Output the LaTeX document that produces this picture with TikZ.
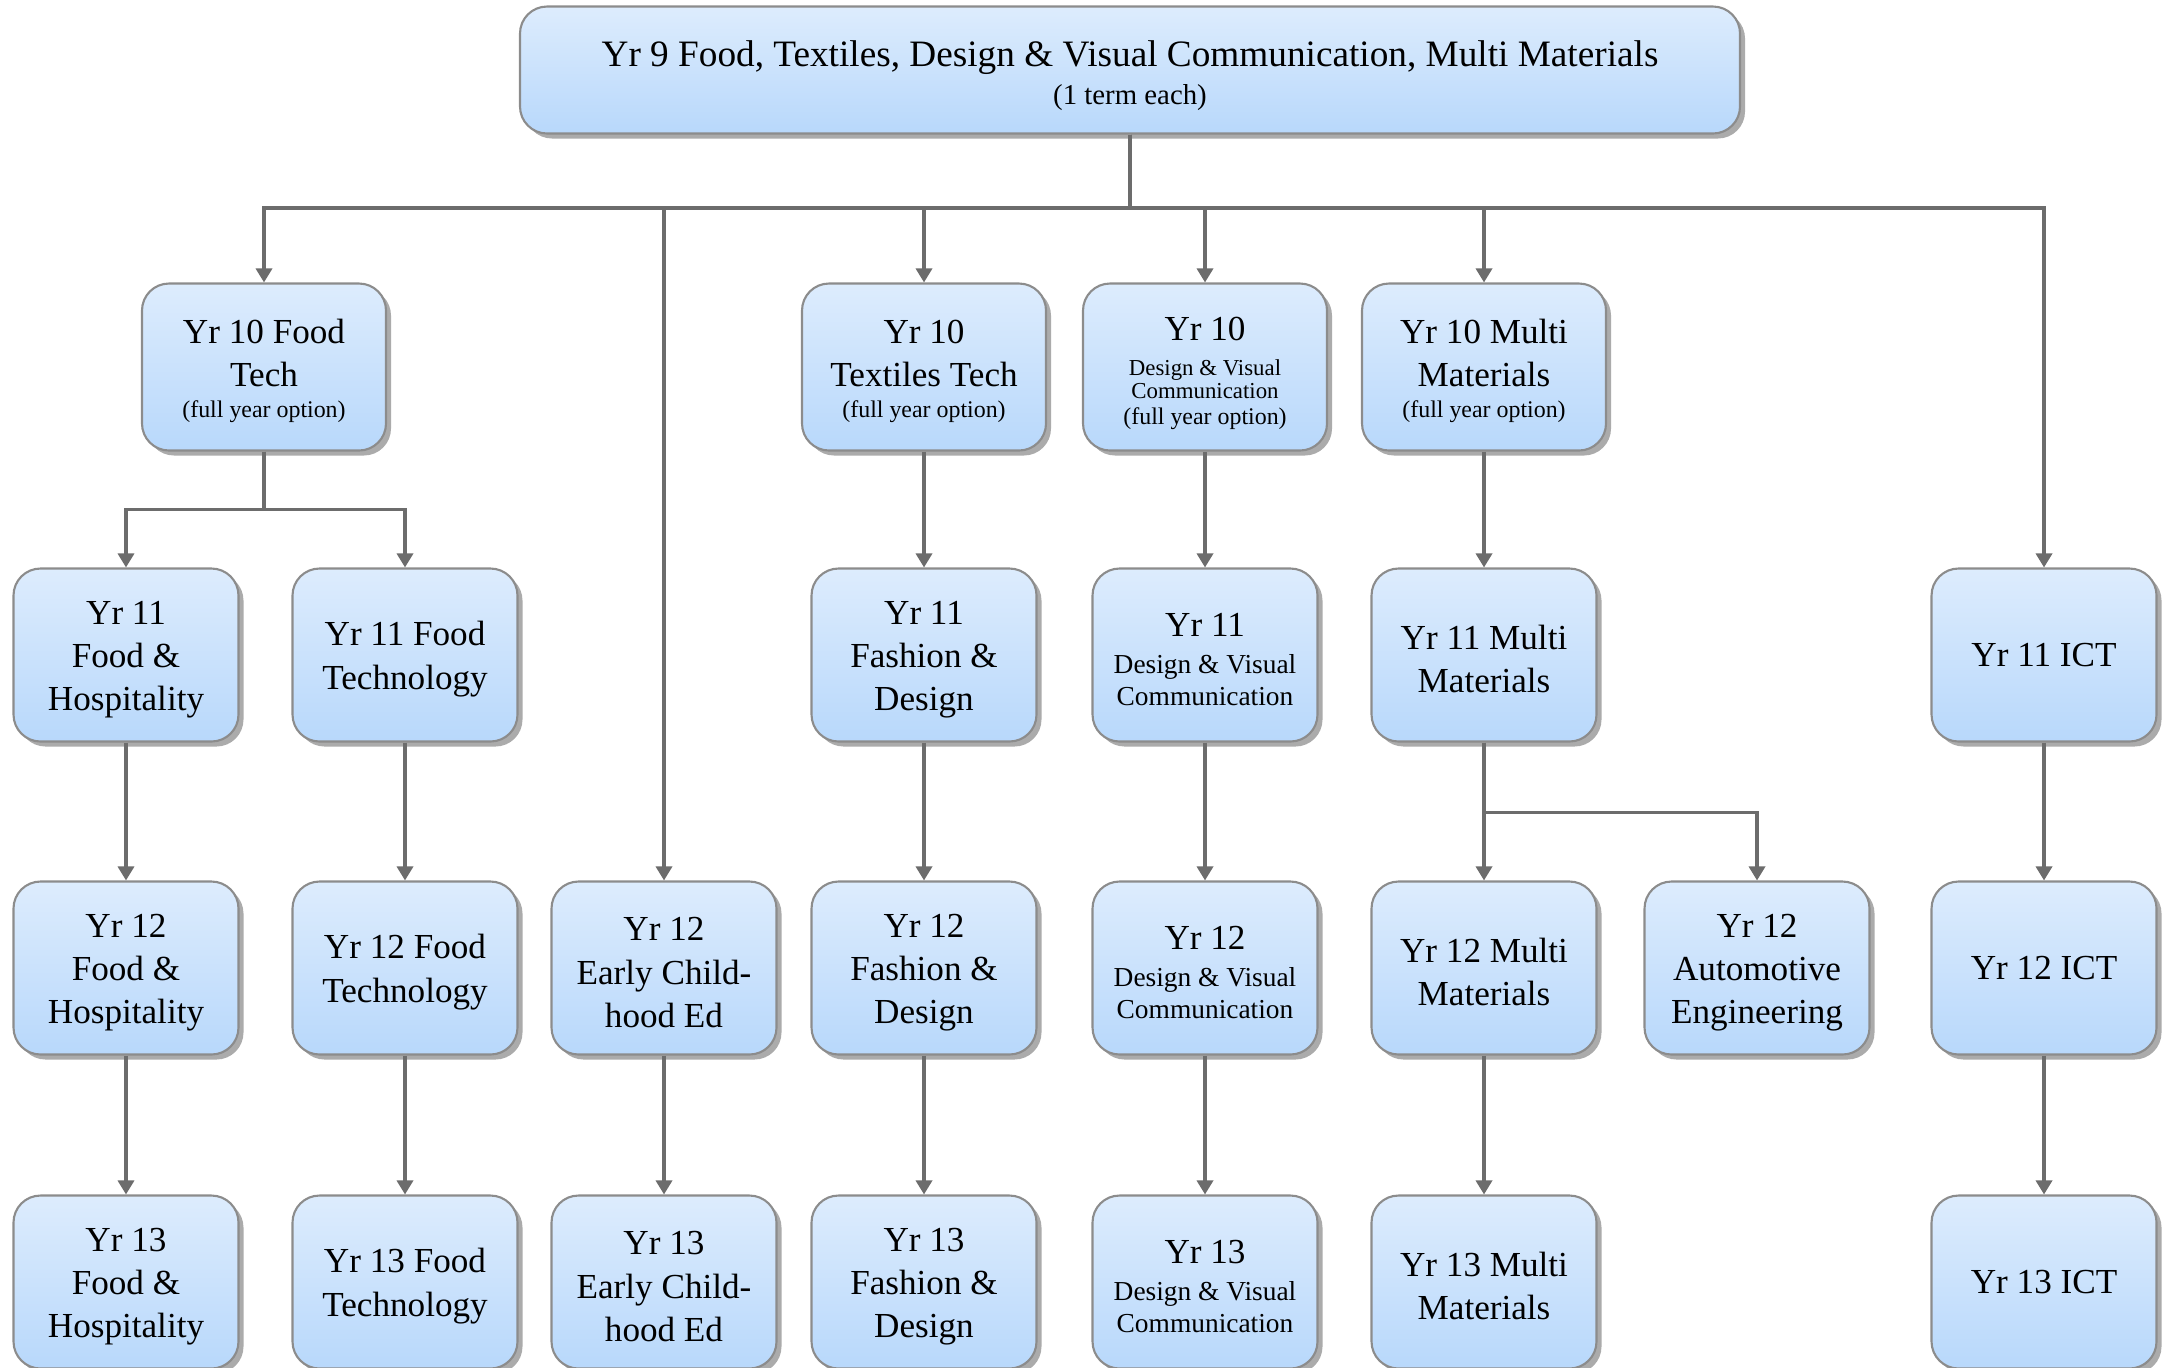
\documentclass[tikz,border=0pt]{standalone}
\usepackage{fontspec}
\setmainfont{Liberation Serif}
\usetikzlibrary{arrows.meta,shadows}
\definecolor{boxtop}{RGB}{221,236,253}
\definecolor{boxbot}{RGB}{184,216,251}
\definecolor{boxline}{RGB}{140,140,140}
\definecolor{linkgray}{RGB}{108,108,108}
\newcommand{\st}{\rule{0pt}{9.2pt}}
\newcommand{\fullyr}{{\fontsize{6.8}{8}\selectfont (full year option)}}
\newcommand{\dvcsmall}[1]{{\fontsize{6.5}{8}\selectfont #1}}
\newcommand{\dvctxt}[1]{{\fontsize{7.8}{9}\selectfont #1}}

\begin{document}
\begin{tikzpicture}[link/.style={-{Triangle[width=0.16cm,length=0.14cm]},draw=linkgray,line width=0.95pt}]
	\useasboundingbox (0,0) rectangle (21.63,-13.67);

	\begin{scope}[every node/.style={rectangle,rounded corners=0.27cm,draw=boxline,line width=0.6pt,top color=boxtop,bottom color=boxbot,drop shadow={shadow xshift=0.05cm,shadow yshift=-0.05cm,fill=black!33,opacity=1},align=center,inner sep=1pt,minimum width=2.25cm,minimum height=1.73cm,font=\fontsize{10}{12.3}\selectfont}]
		\node (yr9) at (11.30,-0.70) [minimum width=12.20cm,minimum height=1.27cm,font=\fontsize{10.6}{12.3}\selectfont] {\rule{0pt}{10.4pt}Yr 9 Food, Textiles, Design \& Visual Communication, Multi Materials\\[-1.5pt]{\fontsize{8.2}{9}\selectfont (1 term each)}};

		% year 10
		\node (food10) at (2.64,-3.67) [minimum width=2.44cm,minimum height=1.67cm] {\st Yr 10 Food\\Tech\\[-3.5pt]\fullyr};
		\node (textiles10) at (9.24,-3.67) [minimum width=2.44cm,minimum height=1.67cm] {\st Yr 10\\Textiles Tech\\[-3.5pt]\fullyr};
		\node (dvc10) at (12.05,-3.67) [minimum width=2.44cm,minimum height=1.67cm] {\rule{0pt}{10pt}Yr 10\\[-2.3pt]\dvcsmall{Design \& Visual}\\[-5.8pt]\dvcsmall{Communication}\\[-4.9pt]\fullyr};
		\node (multi10) at (14.84,-3.67) [minimum width=2.44cm,minimum height=1.67cm] {\st Yr 10 Multi\\Materials\\[-3.5pt]\fullyr};

		% year 11
		\node (foodhosp11) at (1.26,-6.55) {\st Yr 11\\Food \&\\Hospitality};
		\node (foodtech11) at (4.05,-6.55) {\st Yr 11 Food\\Technology};
		\node (fashion11) at (9.24,-6.55) {\st Yr 11\\Fashion \&\\Design};
		\node (dvc11) at (12.05,-6.55) {\st Yr 11\\[-1.8pt]\dvctxt{Design \& Visual}\\[-3.3pt]\dvctxt{Communication}};
		\node (multi11) at (14.84,-6.55) {\st Yr 11 Multi\\Materials};
		\node (ict11) at (20.44,-6.55) {Yr 11 ICT};

		% year 12
		\node (foodhosp12) at (1.26,-9.68) {\st Yr 12\\Food \&\\Hospitality};
		\node (foodtech12) at (4.05,-9.68) {\st Yr 12 Food\\Technology};
		\node (early12) at (6.64,-9.68) {\st Yr 12\\Early Child-\\hood Ed};
		\node (fashion12) at (9.24,-9.68) {\st Yr 12\\Fashion \&\\Design};
		\node (dvc12) at (12.05,-9.68) {\st Yr 12\\[-1.8pt]\dvctxt{Design \& Visual}\\[-3.3pt]\dvctxt{Communication}};
		\node (multi12) at (14.84,-9.68) {\st Yr 12 Multi\\Materials};
		\node (auto12) at (17.57,-9.68) {\st Yr 12\\Automotive\\Engineering};
		\node (ict12) at (20.44,-9.68) {Yr 12 ICT};

		% year 13
		\node (foodhosp13) at (1.26,-12.82) {\st Yr 13\\Food \&\\Hospitality};
		\node (foodtech13) at (4.05,-12.82) {\st Yr 13 Food\\Technology};
		\node (early13) at (6.64,-12.82) {\st Yr 13\\Early Child-\\hood Ed};
		\node (fashion13) at (9.24,-12.82) {\st Yr 13\\Fashion \&\\Design};
		\node (dvc13) at (12.05,-12.82) {\st Yr 13\\[-1.8pt]\dvctxt{Design \& Visual}\\[-3.3pt]\dvctxt{Communication}};
		\node (multi13) at (14.84,-12.82) {\st Yr 13 Multi\\Materials};
		\node (ict13) at (20.44,-12.82) {Yr 13 ICT};
	\end{scope}

	\coordinate (bus) at (11.30,-2.08);
	\draw[link] (yr9.south) -- (bus) -| (food10.north);
	\draw[link] (yr9.south) -- (bus) -| (textiles10.north);
	\draw[link] (yr9.south) -- (bus) -| (dvc10.north);
	\draw[link] (yr9.south) -- (bus) -| (multi10.north);
	\draw[link] (yr9.south) -- (bus) -| (early12.north);
	\draw[link] (yr9.south) -- (bus) -| (ict11.north);

	\draw[link] (food10.south) -- ++(0,-0.58) -| (foodhosp11.north);
	\draw[link] (food10.south) -- ++(0,-0.58) -| (foodtech11.north);
	\draw[link] (textiles10.south) -- (fashion11.north);
	\draw[link] (dvc10.south) -- (dvc11.north);
	\draw[link] (multi10.south) -- (multi11.north);

	\draw[link] (foodhosp11.south) -- (foodhosp12.north);
	\draw[link] (foodtech11.south) -- (foodtech12.north);
	\draw[link] (fashion11.south) -- (fashion12.north);
	\draw[link] (dvc11.south) -- (dvc12.north);
	\draw[link] (multi11.south) -- ++(0,-0.70) -| (multi12.north);
	\draw[link] (multi11.south) -- ++(0,-0.70) -| (auto12.north);
	\draw[link] (ict11.south) -- (ict12.north);

	\draw[link] (foodhosp12.south) -- (foodhosp13.north);
	\draw[link] (foodtech12.south) -- (foodtech13.north);
	\draw[link] (early12.south) -- (early13.north);
	\draw[link] (fashion12.south) -- (fashion13.north);
	\draw[link] (dvc12.south) -- (dvc13.north);
	\draw[link] (multi12.south) -- (multi13.north);
	\draw[link] (ict12.south) -- (ict13.north);
\end{tikzpicture}
\end{document}
